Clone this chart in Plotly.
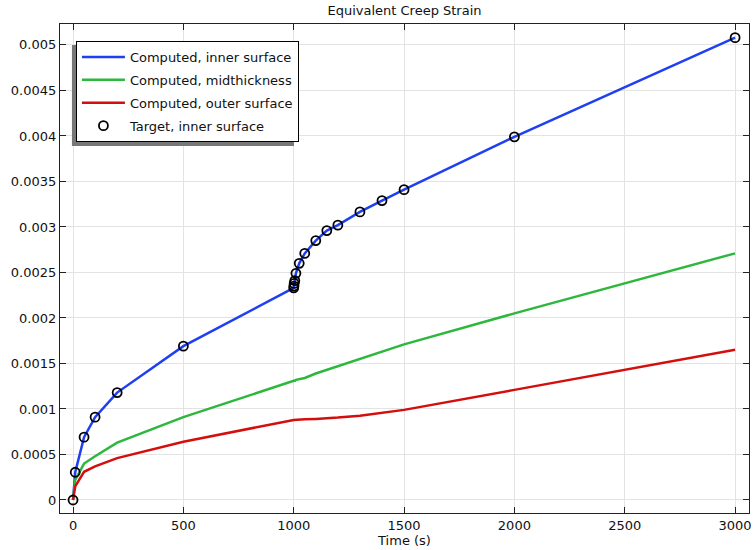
import plotly.graph_objects as go

# Output times (s)
time_s = [0, 10, 50, 100, 200, 500, 1000, 1001, 1002, 1005, 1010, 1025, 1050,
          1100, 1150, 1200, 1300, 1400, 1500, 2000, 3000]

# Equivalent creep strain, computed
inner_surface = [0, 0.000305, 0.00069, 0.00091, 0.00118, 0.00169, 0.00233, 0.00235,
                 0.00238, 0.00241, 0.00249, 0.0026, 0.00271, 0.00285, 0.00296,
                 0.00302, 0.003165, 0.00329, 0.00341, 0.00399, 0.00508]
midthickness = [0, 0.00022, 0.0004, 0.00048, 0.00063, 0.00091, 0.00131, 0.00131,
                0.00131, 0.00131, 0.00132, 0.00133, 0.00134, 0.00139, 0.00143,
                0.00147, 0.00155, 0.00163, 0.00171, 0.00205, 0.00271]
outer_surface = [0, 0.00015, 0.00031, 0.00037, 0.00046, 0.00064, 0.00088, 0.00088,
                 0.00088, 0.00088, 0.000881, 0.000883, 0.000886, 0.000891, 0.000897,
                 0.000905, 0.000925, 0.000955, 0.00099, 0.00121, 0.00165]

# Target values, inner surface
target_time = time_s
target_inner = inner_surface

y_tick_vals = [0, 0.0005, 0.001, 0.0015, 0.002, 0.0025, 0.003, 0.0035, 0.004, 0.0045, 0.005]
y_tick_text = ["0", "0.0005", "0.001", "0.0015", "0.002", "0.0025", "0.003", "0.0035",
               "0.004", "0.0045", "0.005"]
x_tick_vals = [0, 500, 1000, 1500, 2000, 2500, 3000]

W, H = 754, 550
ML, MR, MT, MB = 60, 2, 24, 37
PW, PH = W - ML - MR, H - MT - MB


def px_x(p):
    return (p - ML) / PW


def px_y(p):
    return (H - MB - p) / PH


FONT = "DejaVu Sans"

# legend frame (pixels) and its drop shadow, offset left/down
LEG_L, LEG_T, LEG_R, LEG_B = 76, 41, 299, 142
SHADOW = 4

fig = go.Figure()
fig.add_trace(go.Scatter(x=time_s, y=inner_surface, mode="lines",
                         name="Computed, inner surface",
                         line=dict(color="#1f3ff2", width=2.5), legendgroup="a"))
fig.add_trace(go.Scatter(x=time_s, y=midthickness, mode="lines",
                         name="Computed, midthickness",
                         line=dict(color="#2db83d", width=2.5), legendgroup="b"))
fig.add_trace(go.Scatter(x=time_s, y=outer_surface, mode="lines",
                         name="Computed, outer surface",
                         line=dict(color="#d40d0d", width=2.5), legendgroup="c"))
fig.add_trace(go.Scatter(x=target_time, y=target_inner, mode="markers",
                         name="Target, inner surface",
                         marker=dict(symbol="circle-open", size=9, color="black",
                                     line=dict(width=1.8, color="black")),
                         legendgroup="d"))

axis_common = dict(showline=True, linecolor="#222222", linewidth=1.2, mirror="ticks",
                   ticks="inside", ticklen=6, tickcolor="#222222", tickwidth=1,
                   showgrid=True, gridcolor="#e3e3e3", gridwidth=1, zeroline=False,
                   ticklabeloverflow="allow",
                   tickfont=dict(family=FONT, size=13, color="#111111"))

fig.update_layout(
    width=W, height=H,
    margin=dict(l=ML, r=MR, t=MT, b=MB),
    paper_bgcolor="white", plot_bgcolor="white",
    font=dict(family=FONT, size=13, color="#111111"),
    title=dict(text="Equivalent Creep Strain", x=0.5, xref="paper",
               y=1 - 10 / H, yanchor="middle",
               font=dict(family=FONT, size=13, color="#111111")),
    xaxis=dict(range=[-59, 3063], tickvals=x_tick_vals,
               title=dict(text="Time (s)", standoff=2,
                          font=dict(family=FONT, size=13)),
               **axis_common),
    yaxis=dict(range=[-0.000143, 0.00523], tickvals=y_tick_vals, ticktext=y_tick_text,
               **axis_common),
    legend=dict(x=px_x(LEG_L), y=px_y(LEG_T), xanchor="left", yanchor="top",
                bgcolor="white", bordercolor="black", borderwidth=1,
                font=dict(family=FONT, size=13, color="#111111"),
                traceorder="grouped", tracegroupgap=3, itemwidth=43),
    shapes=[dict(type="rect", xref="paper", yref="paper", layer="above",
                 x0=px_x(LEG_L - SHADOW), x1=px_x(LEG_R - SHADOW),
                 y0=px_y(LEG_B + SHADOW), y1=px_y(LEG_T + SHADOW),
                 fillcolor="#777777", line=dict(width=0))],
    showlegend=True,
)

fig.write_html("out.html")
